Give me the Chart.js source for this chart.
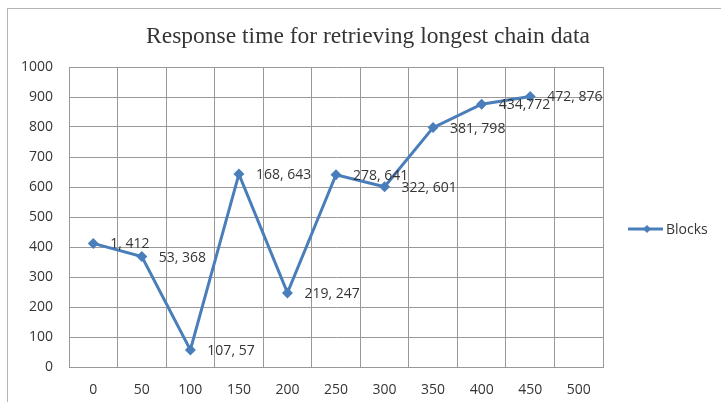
<!DOCTYPE html>
<html>
<head>
<meta charset="utf-8">
<script src="https://cdn.jsdelivr.net/npm/chart.js@4"></script>
<style>
  html, body { margin: 0; padding: 0; background: #fff; }
  canvas { display: block; }
</style>
</head>
<body>
<canvas id="chart" width="721" height="402"></canvas>
<script>
const categories = ["0", "50", "100", "150", "200", "250", "300", "350", "400", "450", "500"];
const blockTimes = [412, 368, 57, 643, 247, 641, 601, 798, 876, 902, null];
const pointLabels = ["1, 412", "53, 368", "107, 57", "168, 643", "219, 247", "278, 641", "322, 601", "381, 798", "434,772", "472, 876"];
const seriesName = "Blocks";
const chartTitle = "Response time for retrieving longest chain data";

const lineBlue = "#4a7ebb";
const gridGray = "#999999";
const textGray = "#353535";

// frame, title, legend and point labels drawn straight on the canvas
const decor = {
  id: "decor",
  beforeDraw(chart) {
    const ctx = chart.ctx;
    ctx.save();
    ctx.strokeStyle = "#b4b4b4";
    ctx.lineWidth = 1;
    ctx.strokeRect(7.5, 8.5, 800, 500);
    ctx.restore();
  },
  afterDraw(chart) {
    const ctx = chart.ctx;
    ctx.save();
    // title
    ctx.fillStyle = textGray;
    ctx.font = "23.5px 'Liberation Serif'";
    ctx.textAlign = "center";
    ctx.textBaseline = "middle";
    ctx.fillText(chartTitle, 368, 37);

    // point labels
    const meta = chart.getDatasetMeta(0);
    ctx.font = "14px 'Open Sans'";
    ctx.textAlign = "left";
    meta.data.forEach((pt, i) => {
      if (blockTimes[i] == null || !pointLabels[i]) return;
      ctx.fillText(pointLabels[i], pt.x + 17, pt.y + 1);
    });

    // legend
    const ly = 229;
    ctx.strokeStyle = lineBlue;
    ctx.lineWidth = 3;
    ctx.beginPath();
    ctx.moveTo(628, ly);
    ctx.lineTo(663, ly);
    ctx.stroke();
    ctx.fillStyle = lineBlue;
    ctx.beginPath();
    ctx.moveTo(647, ly - 4);
    ctx.lineTo(651, ly);
    ctx.lineTo(647, ly + 4);
    ctx.lineTo(643, ly);
    ctx.closePath();
    ctx.fill();
    ctx.fillStyle = textGray;
    ctx.fillText(seriesName, 666, ly + 1);
    ctx.restore();
  }
};

new Chart(document.getElementById("chart"), {
  type: "line",
  data: {
    labels: categories,
    datasets: [{
      label: seriesName,
      data: blockTimes,
      borderColor: lineBlue,
      backgroundColor: lineBlue,
      borderWidth: 3,
      tension: 0,
      pointStyle: "rectRot",
      pointRadius: 5.5,
      pointBorderWidth: 0,
      pointBackgroundColor: lineBlue,
    }]
  },
  options: {
    responsive: false,
    animation: false,
    layout: { padding: { top: 67, right: 118, left: 0, bottom: 0 } },
    plugins: {
      legend: { display: false },
      title: { display: false },
      tooltip: { enabled: false },
    },
    scales: {
      x: {
        offset: true,
        grid: { color: gridGray, drawTicks: false, offset: true },
        border: { color: gridGray },
        ticks: { color: textGray, font: { family: "Open Sans", size: 14 }, padding: 15, maxRotation: 0 },
        afterFit(scale) { scale.height = 35; },
      },
      y: {
        min: 0,
        max: 1000,
        grid: { color: gridGray, drawTicks: false },
        border: { color: gridGray },
        ticks: {
          stepSize: 100,
          color: textGray,
          font: { family: "Open Sans", size: 14 },
          padding: 16,
          callback: v => String(v),
        },
        afterFit(scale) { scale.width = 69; },
      },
    },
  },
  plugins: [decor],
});
</script>
</body>
</html>
